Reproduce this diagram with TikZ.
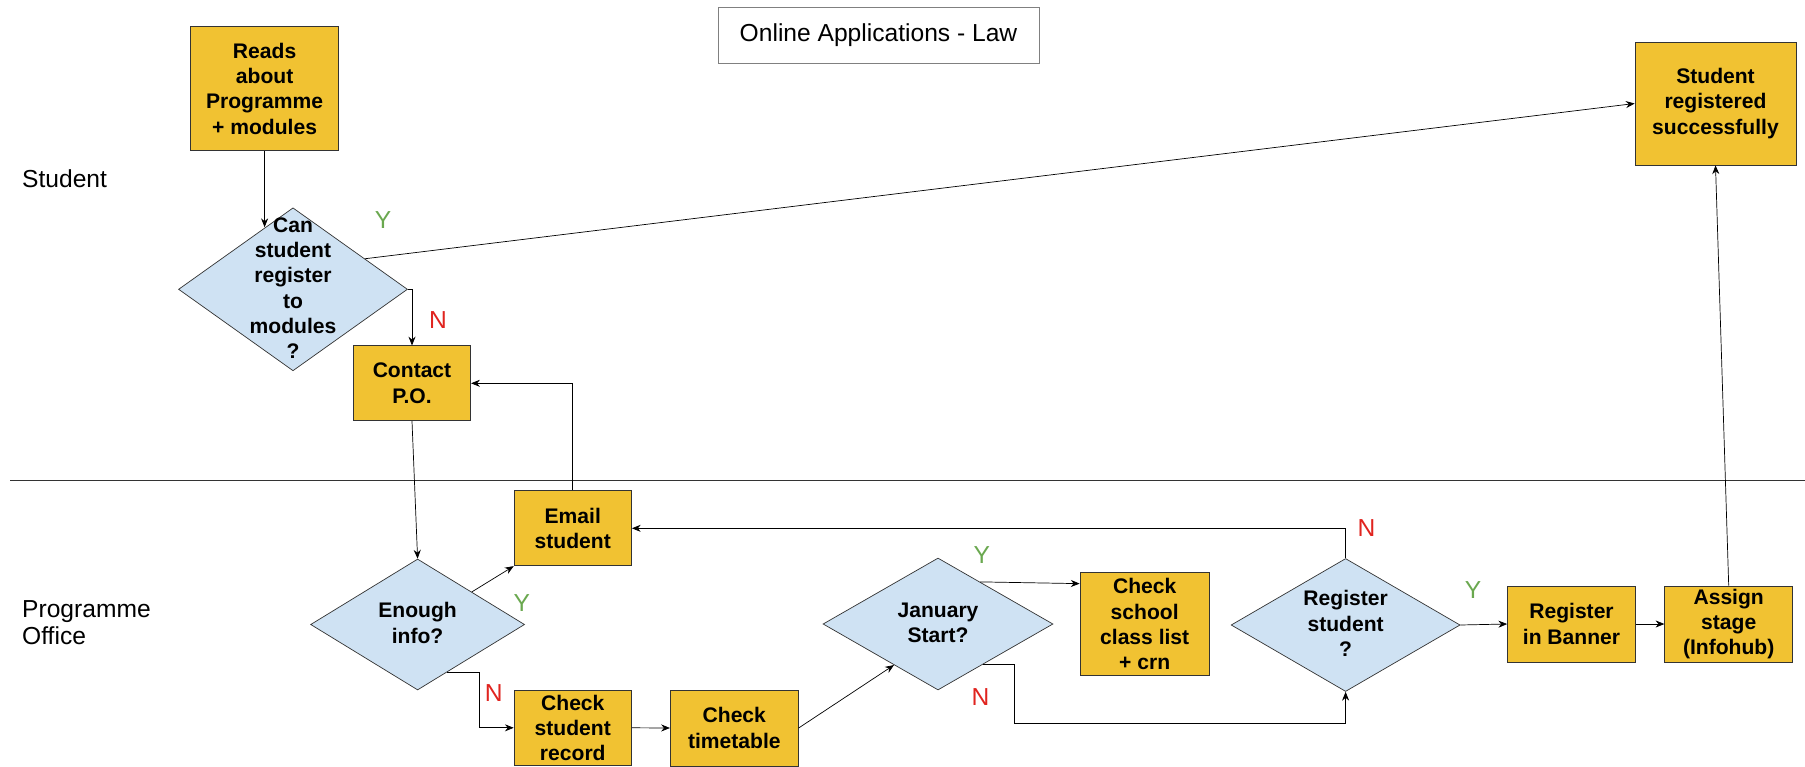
\documentclass[tikz,border=0pt]{standalone}
\usepackage{fontspec}
\setmainfont{Liberation Sans}
\usetikzlibrary{arrows.meta, shapes.geometric, calc}
\definecolor{boxyellow}{HTML}{F1C232}
\definecolor{qblue}{HTML}{CFE2F3}
\definecolor{yesgreen}{HTML}{6AA84F}
\definecolor{nored}{HTML}{E0241F}
\definecolor{edgegray}{HTML}{333333}

% text of a decision that may run over the diamond's edges
\newcommand{\qtext}[1]{\makebox[0pt]{\smash{\raisebox{-0.3em}{\begin{tabular}{@{}c@{}}#1\end{tabular}}}}}

\begin{document}
\begin{tikzpicture}[x=0.02cm, y=-0.02cm, >={Stealth[length=5pt, width=4pt]},
    task/.style={draw=edgegray, fill=boxyellow, align=center, inner sep=1pt,
        font=\fontsize{12}{14.4}\selectfont\bfseries},
    decision/.style={diamond, draw=edgegray, fill=qblue, inner sep=0pt,
        font=\fontsize{12}{14.4}\selectfont\bfseries},
    yes/.style={text=yesgreen, font=\fontsize{14}{16}\selectfont},
    no/.style={text=nored, font=\fontsize{14}{16}\selectfont},
    lane/.style={align=left, anchor=west, font=\fontsize{14}{15.5}\selectfont}]

    \useasboundingbox (0,0) rectangle (1805,767);

    % title and the two lanes:
    \node[draw=gray, minimum width=6.42cm, minimum height=1.12cm, font=\fontsize{14}{16}\selectfont] (title) at (878.5,35) {Online Applications - Law};
    \node[lane] (student) at (16,179) {Student};
    \node[lane] (office) at (16,623) {Programme\\Office};
    \draw[edgegray] (10,480) -- (1805,480);

    % student lane:
    \node[task, minimum width=2.96cm, minimum height=2.48cm] (reads) at (264.6,88.7) {Reads\\about\\Programme\\+ modules};
    \node[decision, minimum width=4.58cm, minimum height=3.26cm] (can) at (293,289.3) {\qtext{Can\\student\\register\\to\\modules\\?}};
    \node[task, minimum width=2.35cm, minimum height=1.5cm] (contact) at (412,383.3) {Contact\\P.O.};
    \node[task, minimum width=3.22cm, minimum height=2.46cm] (success) at (1715.5,103.5) {Student\\registered\\successfully};

    % programme office lane:
    \node[task, minimum width=2.35cm, minimum height=1.5cm] (email) at (572.8,528.3) {Email\\student};
    \node[decision, minimum width=4.28cm, minimum height=2.62cm] (enough) at (417.6,624.5) {\qtext{Enough\\info?}};
    \node[task, minimum width=2.35cm, minimum height=1.51cm] (record) at (572.8,727.8) {Check\\student\\record};
    \node[task, minimum width=2.56cm, minimum height=1.52cm] (timetable) at (734.3,728) {Check\\timetable};
    \node[decision, minimum width=4.6cm, minimum height=2.64cm] (january) at (938,624) {\qtext{January\\Start?}};
    \node[task, minimum width=2.59cm, minimum height=2.06cm] (school) at (1144.7,624.3) {Check\\school\\class list\\+ crn};
    \node[decision, minimum width=4.58cm, minimum height=2.66cm] (register) at (1345.6,625) {\qtext{Register\\student\\?}};
    \node[task, minimum width=2.56cm, minimum height=1.52cm] (banner) at (1571.5,624) {Register\\in Banner};
    \node[task, minimum width=2.56cm, minimum height=1.52cm] (assign) at (1728.7,624) {Assign\\stage\\(Infohub)};

    % yes / no marks:
    \node[yes] (ycan) at (383,220) {Y};
    \node[no] (ncan) at (438,320) {N};
    \node[yes] (yenough) at (521.7,602.7) {Y};
    \node[no] (nenough) at (493.8,692.7) {N};
    \node[yes] (yjan) at (981.8,555) {Y};
    \node[no] (njan) at (980.6,696.7) {N};
    \node[no] (nreg) at (1366.4,528.3) {N};
    \node[yes] (yreg) at (1473,590) {Y};

    % connectors:
    \draw[->] (reads.south) -- (reads.south |- can.114);
    \draw[->] (can.23) -- (success.west);
    \draw[->] (can.east) -| (contact.north);
    \draw[->] (contact.south) -- (enough.north);
    \draw[->] (enough.31) -- (email.south west);
    \draw[->] (email.north) |- (contact.east);
    \draw[->] (enough.-58) -| ($(record.west)+(-34,0)$) -- (record.west);
    \draw[->] (record.east) -- (timetable.west);
    \draw[->] (timetable.east) -- (january.223);
    \draw[->] (january.45) -- (school.148);
    \coordinate (jbend) at (1014.3,723.3);
    \draw[->] (january.-42) -| (jbend) -| (register.south);
    \draw[->] (register.north) |- (email.east);
    \draw[->] (register.east) -- (banner.west);
    \draw[->] (banner.east) -- (assign.west);
    \draw[->] (assign.north) -- (success.south);

\end{tikzpicture}
\end{document}
